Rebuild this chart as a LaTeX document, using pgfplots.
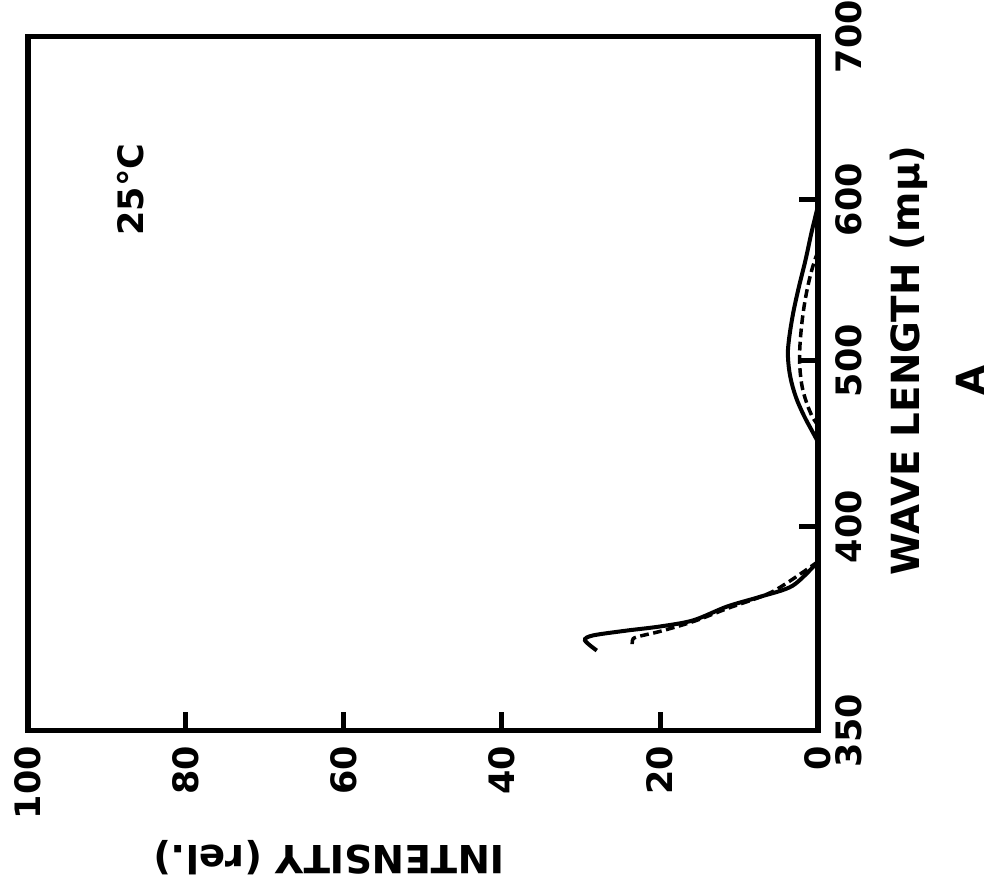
\documentclass[border=0pt]{standalone}
\usepackage{fontspec}
\setmainfont{DejaVu Sans}
\usepackage{pgfplots}
\pgfplotsset{compat=1.18}

\newcommand\lab{\bfseries\fontsize{15.5}{18}\selectfont}
\newcommand\tlab{\bfseries\fontsize{14}{16}\selectfont}

% the wave length scale of the original is not linear (prism scale):
% positions of the ticks, in px from the lower edge
% 350 -> 0, 400 -> 204, 500 -> 370, 600 -> 531, 700 -> 694

\begin{document}
\begin{tikzpicture}
\begin{axis}[
  scale only axis,
  width=316pt, height=277.6pt,
  x dir=reverse,
  xmin=0, xmax=100,
  ymin=350, ymax=700,
  y coord trafo/.code={\pgfmathparse{(#1<400)?((#1-350)*4.08):((#1<500)?(204+(#1-400)*1.66):((#1<600)?(370+(#1-500)*1.61):(531+(#1-600)*1.63)))}},
  xtick={0,20,40,60,80,100},
  ytick={350,400,500,600,700},
  yticklabels={350,400,500,600,700},
  xtick pos=lower, ytick pos=right,
  yticklabel pos=right,
  tick align=inside,
  major tick length=7.5pt,
  axis line style={line width=2.2pt},
  every tick/.style={black, line width=2pt},
  /pgf/number format/assume math mode=true,
  ticklabel style={font=\tlab},
  xticklabel style={inner sep=0pt, yshift=-6pt, rotate=90, anchor=east},
  yticklabel style={inner sep=0pt, xshift=7pt, rotate=90, anchor=north},
]
% solid curve, ultraviolet band
\addplot[black, line width=1.6pt, smooth, tension=0.5] coordinates {
  (0,391.4) (3.2,385.5) (7.3,382.8) (11.5,380.4) (15.8,377.0) (20.0,375.5)
  (24.2,374.5) (28.5,373.3) (29.5,372.1) (28.0,369.6)
};
% dashed curve, ultraviolet band
\addplot[black, line width=1.4pt, dash pattern=on 3.5pt off 1.8pt, smooth, tension=0.5] coordinates {
  (0,391.4) (5.7,384.1) (11.5,379.9) (15.8,376.7) (20.0,374.3) (22.2,373.3)
  (23.4,372.5) (23.5,370.6)
};
% solid curve, visible band
\addplot[black, line width=1.6pt, smooth, tension=0.6] coordinates {
  (0,596) (0.8,580) (1.6,562) (2.5,544) (3.2,528) (3.7,512) (3.8,502)
  (3.5,490) (2.8,478) (1.8,467) (0.8,458) (0,451)
};
% dashed curve, visible band
\addplot[black, line width=1.4pt, dash pattern=on 3.5pt off 1.8pt, smooth, tension=0.6] coordinates {
  (0,568) (0.8,556) (1.5,541) (2.0,525) (2.3,508) (2.3,496) (2.0,484)
  (1.4,474) (0.7,466) (0,461)
};
\node[font=\tlab, rotate=90] at (axis cs:87,606) {25°C};
\end{axis}
\node[font=\lab, rotate=180] at ([shift={(120.4pt,-50.8pt)}]current axis.south west) {INTENSITY (rel.)};
\node[font=\lab, rotate=90] at ([shift={(36.4pt,148pt)}]current axis.south east) {WAVE LENGTH (mμ)};
\node[font=\lab, rotate=90] at ([shift={(60.8pt,140pt)}]current axis.south east) {A};
\path ([shift={(-11.2pt,-62.8pt)}]current axis.south west) rectangle ([shift={(75.6pt,13.6pt)}]current axis.north east);
\end{tikzpicture}
\end{document}
